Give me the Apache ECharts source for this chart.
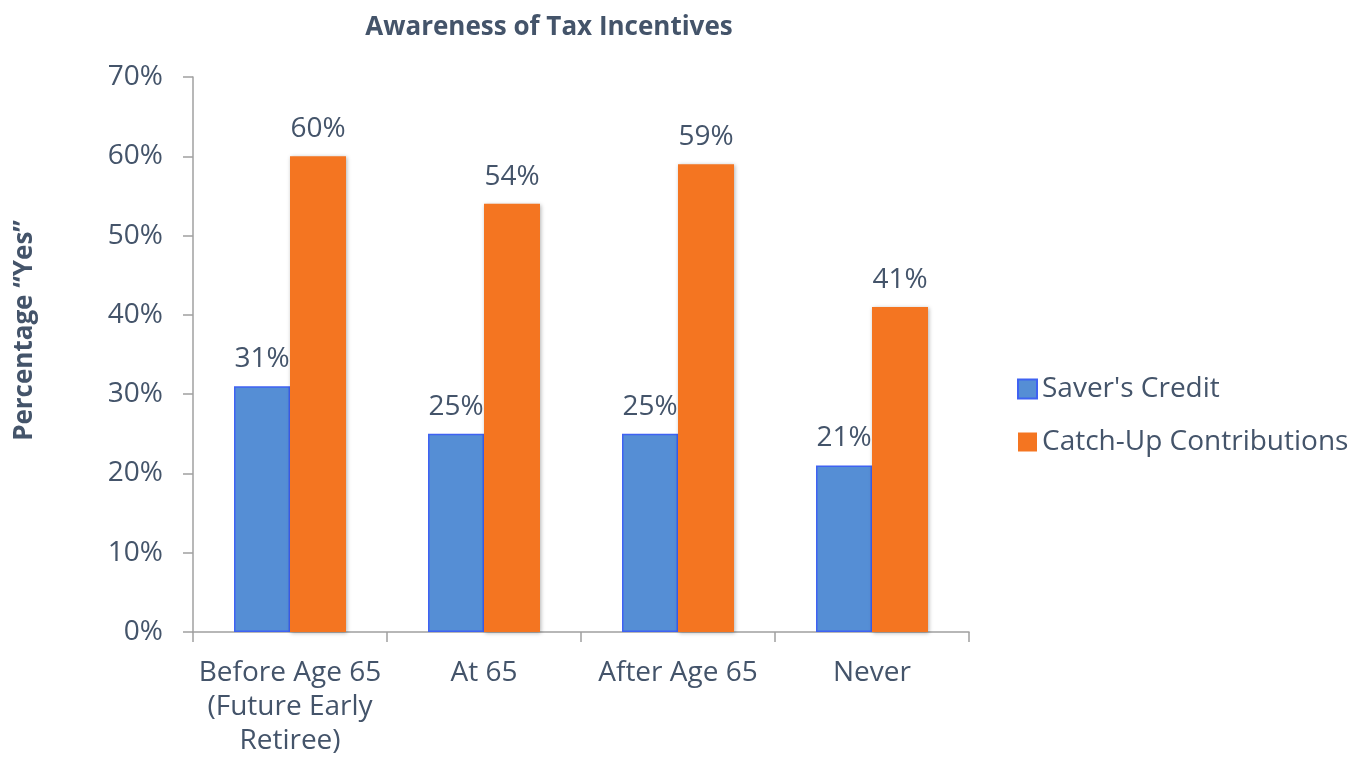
<!DOCTYPE html>
<html>
<head>
<meta charset="utf-8">
<script src="https://cdn.jsdelivr.net/npm/echarts@6/dist/echarts.min.js"></script>
<style>
html,body{margin:0;padding:0;background:#fff;}
#chart{width:1350px;height:766px;}
</style>
</head>
<body>
<div id="chart"></div>
<script>
// Survey responses by expected retirement timing
const categories = ['Before Age 65\n(Future Early\nRetiree)', 'At 65', 'After Age 65', 'Never'];
const saversCredit = [31, 25, 25, 21];
const catchUpContributions = [60, 54, 59, 41];
const seriesNames = ["Saver's Credit", 'Catch-Up Contributions'];

const textColor = '#44546A';
const axisColor = '#A0A0A0';
const font = '"Open Sans", "Noto Sans", sans-serif';

const chart = echarts.init(document.getElementById('chart'));
chart.setOption({
  animation: false,
  title: {
    text: 'Awareness of Tax Incentives',
    left: 544, top: 10, textAlign: 'center',
    textStyle: {fontFamily: font, fontSize: 26, fontWeight: 'bold', color: textColor}
  },
  legend: {
    orient: 'vertical',
    left: 1012, top: 370,
    itemWidth: 19, itemHeight: 19, itemGap: 25,
    icon: 'rect',
    textStyle: {fontFamily: font, fontSize: 28, color: textColor},
    data: seriesNames
  },
  grid: {left: 193, right: 381, top: 77, bottom: 134},
  xAxis: {
    type: 'category',
    data: categories,
    axisLine: {lineStyle: {color: axisColor, width: 1.5}},
    axisTick: {show: true, length: 10, lineStyle: {color: axisColor, width: 1.5}},
    axisLabel: {interval: 0, fontFamily: font, fontSize: 28, color: textColor, margin: 24, lineHeight: 34}
  },
  yAxis: {
    type: 'value',
    min: 0, max: 70, interval: 10,
    name: 'Percentage \u201CYes\u201D',
    nameLocation: 'middle',
    nameGap: 155,
    nameTextStyle: {fontFamily: font, fontSize: 26, fontWeight: 'bold', color: textColor, padding: [0, 0, 0, 48]},
    splitLine: {show: false},
    axisLine: {show: true, lineStyle: {color: axisColor, width: 1.5}},
    axisTick: {show: true, length: 10, lineStyle: {color: axisColor, width: 1.5}},
    axisLabel: {fontFamily: font, fontSize: 28, color: textColor, margin: 30, formatter: '{value}%'}
  },
  series: [
    {
      name: seriesNames[0],
      type: 'bar',
      data: saversCredit,
      barWidth: 56,
      barGap: '0%',
      itemStyle: {color: '#558ED5', borderColor: '#3F62F2', borderWidth: 1.5},
      label: {show: true, position: 'top', distance: 13, formatter: '{c}%',
        fontFamily: font, fontSize: 28, color: textColor}
    },
    {
      name: seriesNames[1],
      type: 'bar',
      data: catchUpContributions,
      barWidth: 56,
      itemStyle: {color: '#F47521', shadowColor: 'rgba(0,0,0,0.3)', shadowBlur: 4, shadowOffsetX: 1, shadowOffsetY: 1},
      label: {show: true, position: 'top', distance: 13, formatter: '{c}%',
        fontFamily: font, fontSize: 28, color: textColor}
    }
  ]
});
</script>
</body>
</html>
